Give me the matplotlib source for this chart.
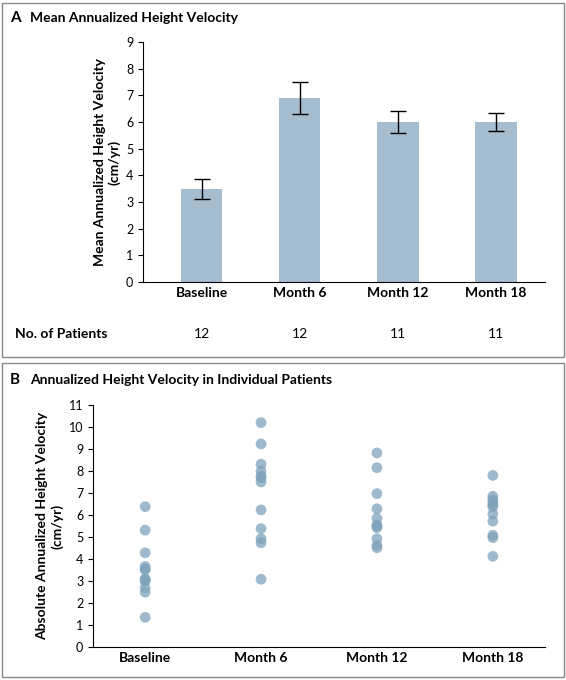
import matplotlib.pyplot as plt
from matplotlib.patches import Rectangle

cats = ["Baseline", "Month 6", "Month 12", "Month 18"]
means = [3.5, 6.9, 6.0, 6.0]
errs = [0.38, 0.6, 0.42, 0.32]
n_pat = [12, 12, 11, 11]
ind = {
    "Baseline": [6.38, 5.31, 4.28, 3.66, 3.55, 3.51, 3.11, 3.05, 3.0, 2.69, 2.49, 1.35],
    "Month 6": [10.2, 9.23, 8.31, 8.0, 7.77, 7.69, 7.5, 6.23, 5.38, 4.92, 4.74, 3.08],
    "Month 12": [8.82, 8.15, 6.97, 6.28, 5.85, 5.54, 5.5, 5.42, 4.92, 4.62, 4.51],
    "Month 18": [7.8, 6.85, 6.69, 6.6, 6.46, 6.38, 6.05, 5.72, 5.08, 4.97, 4.12],
}

W, H = 566, 680
fig = plt.figure(figsize=(W/100, H/100), dpi=100)
plt.rcParams['font.family'] = ['Lato', 'DejaVu Sans']

def fx(x): return x / W
def fy(y): return 1 - y / H

# panel frames
fig.patches.append(Rectangle((fx(2), fy(357)), fx(562), fy(3) - fy(357), transform=fig.transFigure,
                             fill=False, ec='#888888', lw=1))
fig.patches.append(Rectangle((fx(2), fy(677)), fx(562), fy(363) - fy(677), transform=fig.transFigure,
                             fill=False, ec='#888888', lw=1))
fig.text(fx(10), fy(18), "A", fontsize=11, fontweight='bold', va='center')
fig.text(fx(30), fy(18), "Mean Annualized Height Velocity", fontsize=10, fontweight='bold', va='center')
fig.text(fx(10), fy(380), "B", fontsize=11, fontweight='bold', va='center')
fig.text(fx(30), fy(380), "Annualized Height Velocity in Individual Patients", fontsize=10, fontweight='bold', va='center')

# Panel A
ax = fig.add_axes([fx(143), fy(282), fx(545 - 143), fy(42) - fy(282)])
x = range(len(cats))
ax.bar(x, means, width=0.42, color='#a5bdcf')
ax.errorbar(x, means, yerr=errs, fmt='none', ecolor='black', elinewidth=1, capsize=6)
ax.set_ylim(0, 9)
ax.set_xlim(-0.6, 3.5)
ax.set_yticks(range(10))
ax.set_xticks(list(x))
ax.set_xticklabels(cats, fontsize=10, fontweight='bold')
ax.set_ylabel("Mean Annualized Height Velocity\n(cm/yr)", fontsize=10, fontweight='bold')
for s in ['top', 'right']:
    ax.spines[s].set_visible(False)
ax.tick_params(labelsize=9)
for t in ax.get_xticklabels():
    t.set_fontsize(10)
ax.tick_params(axis='x', length=0)
fig.text(fx(15), fy(334), "No. of Patients", fontsize=10, fontweight='bold', va='center')
for i, n in enumerate(n_pat):
    xd = ax.transData.transform((i, 0))[0] / fig.dpi / fig.get_figwidth()
    fig.text(xd, fy(334), str(n), fontsize=10, ha='center', va='center')

# Panel B
bx = fig.add_axes([fx(93), fy(647), fx(545 - 93), fy(405) - fy(647)])
for i, c in enumerate(cats):
    bx.scatter([i] * len(ind[c]), ind[c], s=60, color='#7fa3bb', alpha=0.75, edgecolors='none')
bx.set_ylim(0, 11)
bx.set_xlim(-0.45, 3.45)
bx.set_yticks(range(12))
bx.set_xticks(list(x))
bx.set_xticklabels(cats, fontsize=10, fontweight='bold')
bx.tick_params(axis='x', length=0)
bx.tick_params(axis='y', labelsize=9)
bx.set_ylabel("Absolute Annualized Height Velocity\n(cm/yr)", fontsize=10, fontweight='bold')
for s in ['top', 'right']:
    bx.spines[s].set_visible(False)

fig.savefig("out.png", dpi=100)
